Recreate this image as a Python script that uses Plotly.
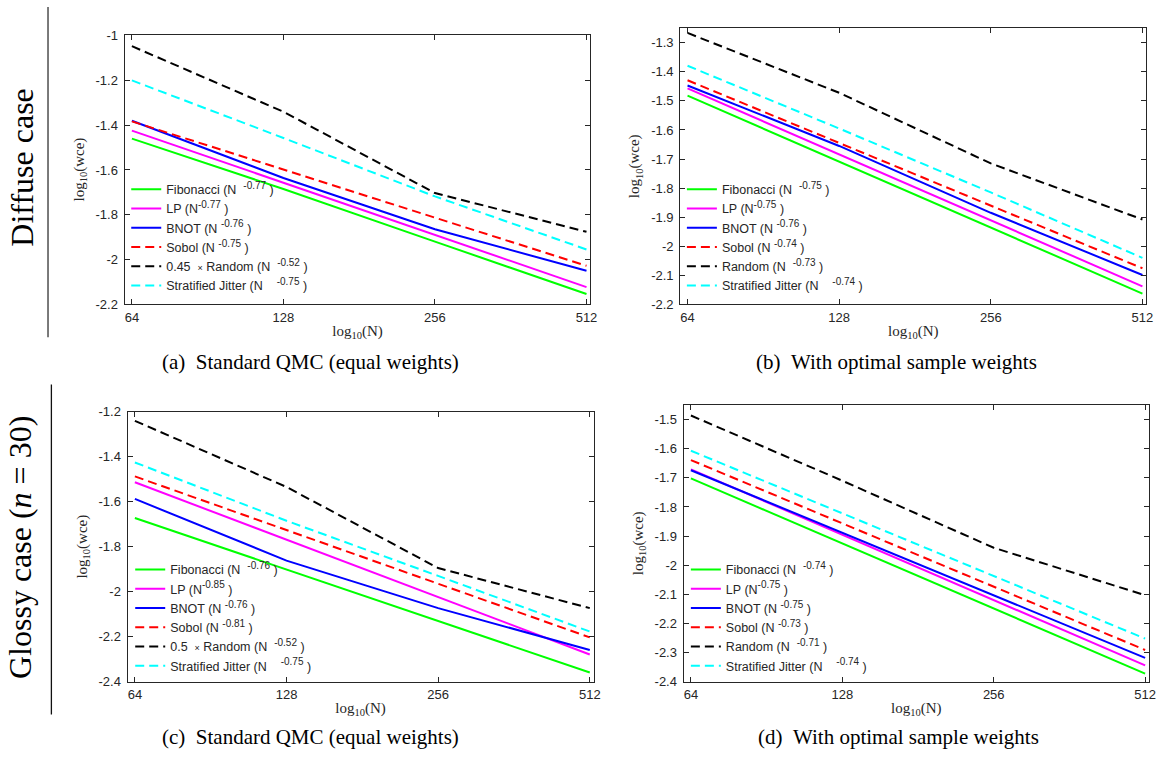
import math
import plotly.graph_objects as go

# ---------------- data ----------------
N = [64, 128, 256, 512]

fib_a = [-1.460, -1.685, -1.920, -2.154]
lp_a = [-1.424, -1.658, -1.892, -2.123]
bnot_a = [-1.380, -1.636, -1.865, -2.050]
sobol_a = [-1.383, -1.598, -1.812, -2.028]
rand_a = [-1.047, -1.340, -1.703, -1.876]
strat_a = [-1.200, -1.457, -1.718, -1.955]

fib_b = [-1.482, -1.709, -1.936, -2.163]
lp_b = [-1.457, -1.684, -1.911, -2.138]
bnot_b = [-1.447, -1.655, -1.885, -2.099]
sobol_b = [-1.429, -1.645, -1.860, -2.076]
rand_b = [-1.266, -1.472, -1.715, -1.908]
strat_b = [-1.379, -1.595, -1.815, -2.040]

fib_c = [-1.673, -1.901, -2.130, -2.359]
lp_c = [-1.514, -1.768, -2.025, -2.279]
bnot_c = [-1.588, -1.862, -2.073, -2.259]
sobol_c = [-1.488, -1.726, -1.965, -2.203]
rand_c = [-1.241, -1.535, -1.895, -2.073]
strat_c = [-1.426, -1.685, -1.930, -2.177]

fib_d = [-1.702, -1.925, -2.149, -2.372]
lp_d = [-1.671, -1.895, -2.120, -2.344]
bnot_d = [-1.674, -1.889, -2.103, -2.318]
sobol_d = [-1.639, -1.856, -2.074, -2.291]
rand_d = [-1.486, -1.710, -1.940, -2.103]
strat_d = [-1.607, -1.822, -2.037, -2.252]

x_ticks = [64, 128, 256, 512]
x_ticktext = ["64", "128", "256", "512"]

yticks_a = [-2.2, -2.0, -1.8, -1.6, -1.4, -1.2, -1.0]
yticks_a_text = ["-2.2", "-2", "-1.8", "-1.6", "-1.4", "-1.2", "-1"]
yticks_b = [-2.2, -2.1, -2.0, -1.9, -1.8, -1.7, -1.6, -1.5, -1.4, -1.3]
yticks_b_text = ["-2.2", "-2.1", "-2", "-1.9", "-1.8", "-1.7", "-1.6", "-1.5", "-1.4", "-1.3"]
yticks_c = [-2.4, -2.2, -2.0, -1.8, -1.6, -1.4, -1.2]
yticks_c_text = ["-2.4", "-2.2", "-2", "-1.8", "-1.6", "-1.4", "-1.2"]
yticks_d = [-2.4, -2.3, -2.2, -2.1, -2.0, -1.9, -1.8, -1.7, -1.6, -1.5]
yticks_d_text = ["-2.4", "-2.3", "-2.2", "-2.1", "-2", "-1.9", "-1.8", "-1.7", "-1.6", "-1.5"]

NB = "\u00a0"


def sup(s):
    return f"<sup><span style='font-size:10px'>{s}</span></sup>"


TIMES = "<span style='font-size:9px'>×</span>"

names_a = [
    f"Fibonacci (N{NB*2}{sup('-0.77')}{NB})",
    f"LP (N{sup('-0.77')}{NB})",
    f"BNOT (N{NB}{sup('-0.76')}{NB})",
    f"Sobol (N{NB}{sup('-0.75')}{NB})",
    f"0.45{NB*2}{TIMES} Random (N{NB*2}{sup('-0.52')}{NB})",
    f"Stratified Jitter (N{NB*4}{sup('-0.75')}{NB})",
]
names_b = [
    f"Fibonacci (N{NB*2}{sup('-0.75')}{NB})",
    f"LP (N{sup('-0.75')}{NB})",
    f"BNOT (N{NB}{sup('-0.76')}{NB})",
    f"Sobol (N{NB}{sup('-0.74')}{NB})",
    f"Random (N{NB*2}{sup('-0.73')}{NB})",
    f"Stratified Jitter (N{NB*4}{sup('-0.74')}{NB})",
]
names_c = [
    f"Fibonacci (N{NB*2}{sup('-0.76')}{NB})",
    f"LP (N{sup('-0.85')}{NB})",
    f"BNOT (N{NB}{sup('-0.76')}{NB})",
    f"Sobol (N{NB}{sup('-0.81')}{NB})",
    f"0.5{NB*2}{TIMES} Random (N{NB*2}{sup('-0.52')}{NB})",
    f"Stratified Jitter (N{NB*4}{sup('-0.75')}{NB})",
]
names_d = [
    f"Fibonacci (N{NB*2}{sup('-0.74')}{NB})",
    f"LP (N{sup('-0.75')}{NB})",
    f"BNOT (N{NB}{sup('-0.75')}{NB})",
    f"Sobol (N{NB}{sup('-0.73')}{NB})",
    f"Random (N{NB*2}{sup('-0.71')}{NB})",
    f"Stratified Jitter (N{NB*4}{sup('-0.74')}{NB})",
]

captions = ["(a)\u2002Standard QMC (equal weights)", "(b)\u2002With optimal sample weights",
            "(c)\u2002Standard QMC (equal weights)", "(d)\u2002With optimal sample weights"]

# ---------------- styles ----------------
W, H = 1167, 761
colors = ["#00ff00", "#ff00ff", "#0000ff", "#ff0000", "#000000", "#00ffff"]
dashes = ["solid", "solid", "solid", "9px,5px", "9px,5px", "9px,5px"]
AX = "#262626"
SANS = "Liberation Sans, Arial, sans-serif"
SERIF = "Liberation Serif, Times New Roman, serif"


def px_x(p):
    return p / W


def px_y(p):
    return 1 - p / H


# panel frames in pixels: left, right, top, bottom
frames = [
    (125.3, 594.0, 28.3, 303.3),
    (684.3, 1153.3, 21.7, 303.3),
    (128.3, 597.3, 412.7, 688.3),
    (687.7, 1156.0, 406.0, 688.3),
]
yranges = [[-2.2, -0.996], [-2.2, -1.25], [-2.4, -1.2], [-2.4, -1.45]]
ytick_sets = [(yticks_a, yticks_a_text), (yticks_b, yticks_b_text),
              (yticks_c, yticks_c_text), (yticks_d, yticks_d_text)]
series = [
    [fib_a, lp_a, bnot_a, sobol_a, rand_a, strat_a],
    [fib_b, lp_b, bnot_b, sobol_b, rand_b, strat_b],
    [fib_c, lp_c, bnot_c, sobol_c, rand_c, strat_c],
    [fib_d, lp_d, bnot_d, sobol_d, rand_d, strat_d],
]
names = [names_a, names_b, names_c, names_d]
# legend anchor (left, top) in px
legend_pos = [(127, 171), (686, 171), (131, 559), (690, 559)]
caption_pos = [(312, 362), (902, 362), (312, 745), (904, 745)]

l2 = math.log10(2)
xrange = [math.log10(64) - 0.0485 * l2, math.log10(512) + 0.026 * l2]

fig = go.Figure()
layout = dict(
    width=W, height=H, margin=dict(l=0, r=0, t=0, b=0),
    plot_bgcolor="white", paper_bgcolor="white", showlegend=True,
)

for i in range(4):
    k = "" if i == 0 else str(i + 1)
    L, R, T, B = frames[i]
    lg = "legend" + k
    for j in range(6):
        fig.add_trace(go.Scatter(
            x=N, y=series[i][j], mode="lines", name=names[i][j],
            line=dict(color=colors[j], width=2, dash=dashes[j]),
            xaxis="x" + k, yaxis="y" + k, legend=lg,
            legendgroup=f"g{i}{j}",
        ))
    common = dict(
        showline=True, linecolor=AX, linewidth=1, mirror="ticks",
        ticks="inside", ticklen=5, tickcolor=AX, tickwidth=1,
        showgrid=False, zeroline=False,
        tickfont=dict(family=SANS, size=13, color=AX),
    )
    layout["xaxis" + k] = dict(
        common, type="log", range=xrange, domain=[px_x(L), px_x(R)],
        anchor="y" + k, tickvals=x_ticks, ticktext=x_ticktext,
        ticklabelstandoff=1,
        title=dict(text="log<sub>10</sub>(N)", font=dict(family=SERIF, size=15, color=AX), standoff=1),
    )
    layout["yaxis" + k] = dict(
        common, range=yranges[i], domain=[px_y(B), px_y(T)], anchor="x" + k,
        tickvals=ytick_sets[i][0], ticktext=ytick_sets[i][1],
        ticklabelstandoff=3,
        title=dict(text="log<sub>10</sub>(wce)", font=dict(family=SERIF, size=15, color=AX), standoff=7),
    )
    lx, ly = legend_pos[i]
    layout[lg] = dict(
        x=px_x(lx), y=px_y(ly), xanchor="left", yanchor="top",
        bgcolor="rgba(0,0,0,0)", borderwidth=0, tracegroupgap=0,
        font=dict(family=SANS, size=12.5, color=AX),
    )

annotations = []
for i in range(4):
    cx, cy = caption_pos[i]
    annotations.append(dict(
        text=captions[i], x=px_x(cx), y=px_y(cy), xref="paper", yref="paper",
        showarrow=False, xanchor="center", yanchor="middle",
        font=dict(family=SERIF, size=21, color="black"),
    ))
annotations.append(dict(
    text="Diffuse case", x=px_x(22), y=px_y(164), xref="paper", yref="paper",
    showarrow=False, textangle=-90, xanchor="center", yanchor="middle",
    font=dict(family=SERIF, size=32, color="black"),
))
annotations.append(dict(
    text="Glossy case (<i>n</i> = 30)", x=px_x(20), y=px_y(551), xref="paper", yref="paper",
    showarrow=False, textangle=-90, xanchor="center", yanchor="middle",
    font=dict(family=SERIF, size=32, color="black"),
))
layout["annotations"] = annotations
layout["shapes"] = [
    dict(type="line", xref="paper", yref="paper", x0=px_x(48.3), x1=px_x(48.3),
         y0=px_y(0), y1=px_y(337), line=dict(color="#333333", width=1.3)),
    dict(type="line", xref="paper", yref="paper", x0=px_x(51.7), x1=px_x(51.7),
         y0=px_y(385), y1=px_y(721.7), line=dict(color="#111111", width=1.3)),
]

fig.update_layout(**layout)
fig.write_html("out.html", config={"displayModeBar": False},
               post_script="document.body.style.margin='0';")
